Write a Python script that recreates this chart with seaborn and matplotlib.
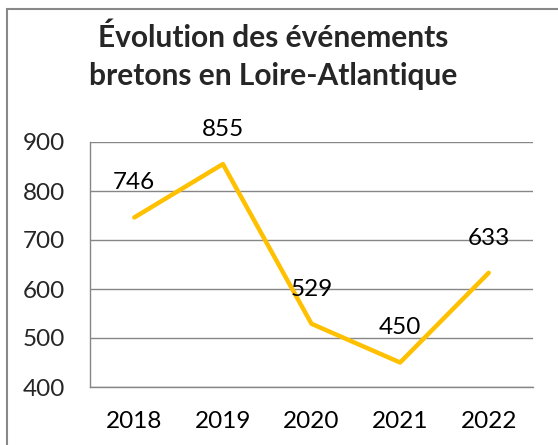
import matplotlib.pyplot as plt
import matplotlib.patches as patches
import seaborn as sns
import pandas as pd
import numpy as np

annees = ["2018", "2019", "2020", "2021", "2022"]
evenements = [746, 855, 529, 450, 633]
titre = "Évolution des événements\nbretons en Loire-Atlantique"

sns.set_style("white")
plt.rcParams['font.family'] = ['Lato', 'DejaVu Sans']

df = pd.DataFrame({"x": np.arange(len(annees)), "y": evenements})

fig = plt.figure(figsize=(5.58, 4.45), dpi=100)
ax = fig.add_axes([90 / 558, 1 - 387 / 445, (533 - 90) / 558, (387 - 142) / 445])

sns.lineplot(data=df, x="x", y="y", ax=ax, color="#FFC000", linewidth=3.2)

ax.set_xlim(-0.5, 4.5)
ax.set_ylim(400, 900)
ax.set_yticks(range(400, 901, 100))
ax.set_xticks(df["x"])
ax.set_xticklabels(annees)
ax.set_xticks(np.arange(-0.5, 4.6, 1), minor=True)
ax.tick_params(axis="x", which="major", length=0, pad=17, labelsize=17.5, colors="black")
ax.tick_params(axis="x", which="minor", length=6, width=1, color="#868686", direction="out")
ax.tick_params(axis="y", length=6, width=1, color="#868686", direction="out", labelsize=17.5, pad=12)
ax.set_xlabel("")
ax.set_ylabel("")
ax.grid(axis="y", color="#868686", linewidth=1)
ax.set_axisbelow(True)
for s in ["top", "right"]:
    ax.spines[s].set_visible(False)
for s in ["left", "bottom"]:
    ax.spines[s].set_color("#868686")
    ax.spines[s].set_linewidth(1)

for xi, v in zip(df["x"], evenements):
    ax.annotate(str(v), (xi, v), xytext=(0, 25), textcoords="offset points",
                ha="center", va="center", fontsize=17.5, color="black")

fig.text(273 / 558, 1 - 57 / 445, titre, ha="center", va="center",
         fontsize=21.5, fontweight="bold", linespacing=1.45)

# cadre du graphique
fig.patches.append(patches.Rectangle((7 / 558, -0.1), 1.2, 1 - 9 / 445 + 0.1,
                                     transform=fig.transFigure, fill=False,
                                     edgecolor="#888888", linewidth=1.5))

fig.savefig("out.png", dpi=100)
